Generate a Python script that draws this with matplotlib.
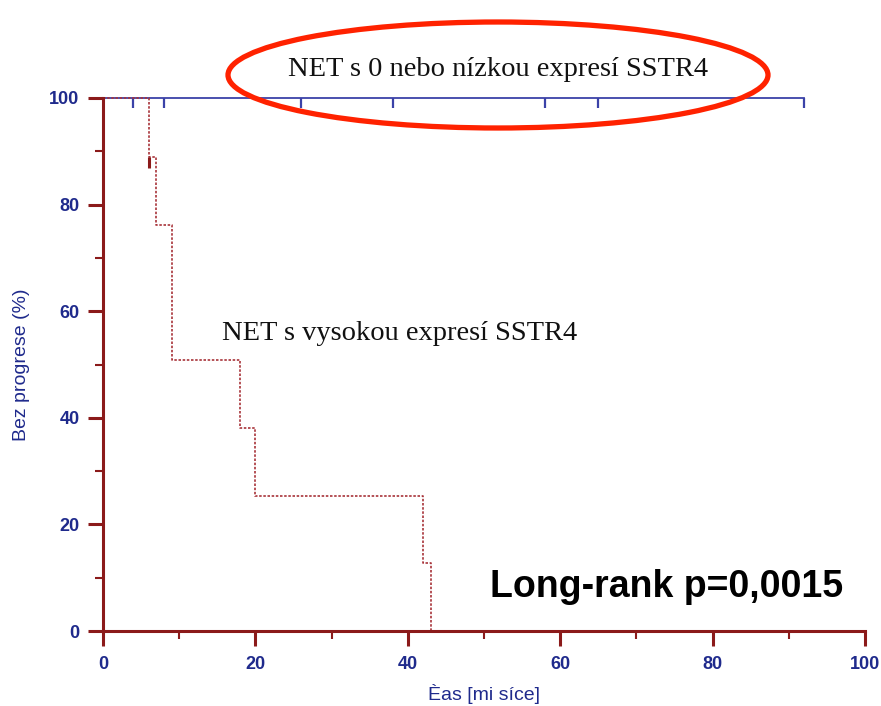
import matplotlib
matplotlib.use("Agg")
import matplotlib.pyplot as plt
from matplotlib.patches import Ellipse


# curve 1: NET s 0 nebo nizkou expresi SSTR4 (no events)
low_end = 92
low_censor = [4, 8, 26, 38, 58, 65, 92]

# curve 2: NET s vysokou expresi SSTR4 (step function)
high_times = [0, 6, 7, 9, 18, 20, 42, 43]
high_surv = [100, 88.9, 76.2, 50.8, 38.1, 25.4, 12.7, 0]
high_censor_x = [6]
high_censor_y = [88.9]

label_low = "NET s 0 nebo nízkou expresí SSTR4"
label_high = "NET s vysokou expresí SSTR4"
pval_text = "Long-rank p=0,0015"

axis_red = "#8b1a1a"
navy = "#1f2a8c"
line_blue = "#3b42a8"
curve_red = "#a8333a"

plt.rcParams["font.family"] = ["Liberation Sans", "DejaVu Sans"]

fig = plt.figure(figsize=(8.81, 7.06), dpi=100)
ax = fig.add_axes([103 / 881, 1 - 631 / 706, 762 / 881, 533 / 706])

# top flat line + censor ticks
ax.plot([0, low_end], [100, 100], color=line_blue, linewidth=1.3, clip_on=False)
ax.vlines(low_censor, 98.2, 100, color=line_blue, linewidth=1.6, clip_on=False)

# stepped curve
ax.step(high_times, high_surv, where="post", color=curve_red,
        linewidth=1.2, linestyle=(0, (1.5, 1)), clip_on=False)
ax.vlines(high_censor_x, [y - 2.0 for y in high_censor_y], high_censor_y,
          color=axis_red, linewidth=2.2)

ax.set_xlim(0, 100)
ax.set_ylim(0, 100)

for side in ["top", "right"]:
    ax.spines[side].set_visible(False)
for side in ["left", "bottom"]:
    ax.spines[side].set_color(axis_red)
    ax.spines[side].set_linewidth(2.2)

ax.set_xticks(range(0, 101, 20))
ax.set_xticks(range(10, 100, 20), minor=True)
ax.set_yticks(range(0, 101, 20))
ax.set_yticks(range(10, 100, 20), minor=True)

ax.tick_params(which="major", length=11, width=2.2, color=axis_red,
               labelcolor=navy, labelsize=13, pad=6)
ax.tick_params(axis="x", which="major", pad=7)
ax.tick_params(which="minor", length=6, width=1.5, color=axis_red)
for lbl in ax.get_xticklabels() + ax.get_yticklabels():
    lbl.set_fontweight("bold")

ax.set_xlabel("Èas [mi síce]", color=navy, fontsize=14, labelpad=8)
ax.set_ylabel("Bez progrese (%)", color=navy, fontsize=14, labelpad=14)

ax.text(24.3, 104.1, label_low, ha="left", va="baseline",
        family="Liberation Serif", fontsize=20.5, color="#111111", clip_on=False)
ax.text(15.6, 54.6, label_high, ha="left", va="baseline",
        family="Liberation Serif", fontsize=20.5, color="#111111")
ax.text(50.8, 6.4, pval_text, ha="left", va="baseline",
        fontsize=27, fontweight="bold", color="black")

# hand-drawn style highlight around the first label
ell = Ellipse((498 / 881, 1 - 75 / 706), 540 / 881, 106 / 706,
              transform=fig.transFigure, fill=False,
              edgecolor="#ff2200", linewidth=3.8)
fig.patches.append(ell)

fig.savefig("out.png", dpi=100)
